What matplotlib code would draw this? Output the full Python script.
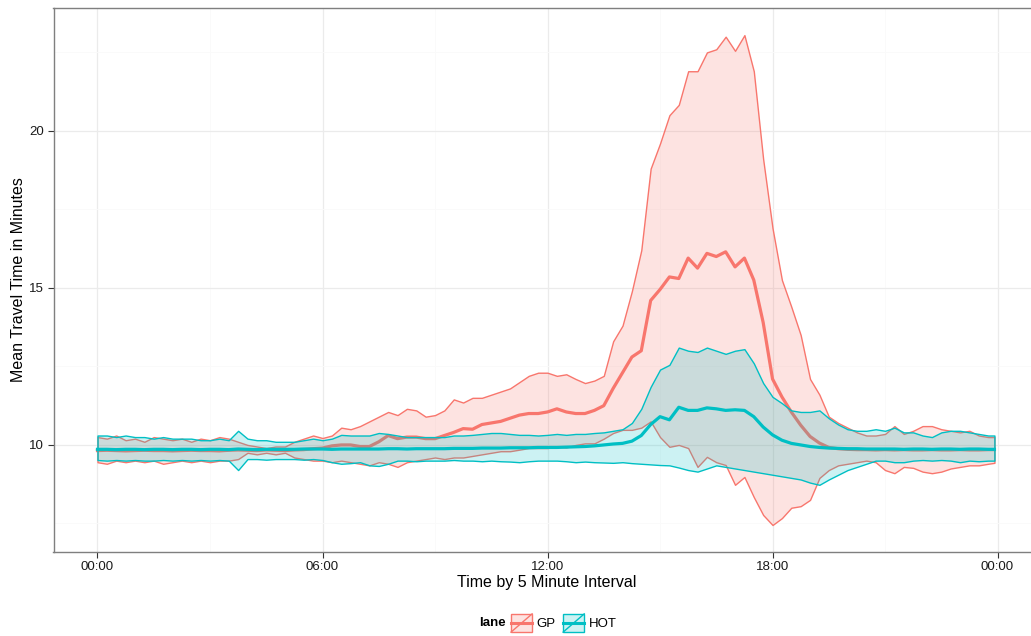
import numpy as np
import matplotlib
matplotlib.use("Agg")
import matplotlib.pyplot as plt
from matplotlib.colors import to_rgba
from matplotlib.patches import Patch, Rectangle
from matplotlib.lines import Line2D
from matplotlib.legend_handler import HandlerBase

plt.rcParams['font.family'] = ['Liberation Sans', 'DejaVu Sans']

# time of day in hours, 15 minute steps, last point 23:55
hours = np.append(np.arange(0, 24, 0.25), 23 + 55 / 60)

# GP lane: lower bound, mean, upper bound (minutes)
gp_hi = [
    10.25, 10.20, 10.30, 10.15, 10.20, 10.10, 10.25, 10.20,
    10.15, 10.20, 10.10, 10.20, 10.15, 10.25, 10.20, 10.10,
    10.00, 9.95, 9.90, 9.95, 9.95, 10.10, 10.20, 10.30,
    10.22, 10.30, 10.55, 10.50, 10.60, 10.75, 10.90, 11.05,
    10.95, 11.15, 11.10, 10.90, 10.95, 11.10, 11.45, 11.35,
    11.50, 11.50, 11.60, 11.70, 11.80, 12.00, 12.20, 12.30,
    12.30, 12.20, 12.25, 12.10, 11.97, 12.05, 12.20, 13.30,
    13.80, 14.90, 16.20, 18.80, 19.60, 20.50, 20.83, 21.90,
    21.90, 22.50, 22.60, 23.00, 22.55, 23.05, 21.90, 19.10,
    16.90, 15.25, 14.40, 13.50, 12.10, 11.60, 10.90, 10.70,
    10.55, 10.40, 10.30, 10.30, 10.35, 10.60, 10.35, 10.45,
    10.60, 10.60, 10.50, 10.45, 10.40, 10.45, 10.30, 10.25,
    10.25,
]
gp_mean = [
    9.82, 9.83, 9.82, 9.81, 9.82, 9.83, 9.82, 9.82,
    9.81, 9.82, 9.83, 9.82, 9.82, 9.81, 9.83, 9.84,
    9.83, 9.82, 9.84, 9.83, 9.82, 9.84, 9.85, 9.88,
    9.90, 9.97, 10.00, 10.00, 9.95, 9.95, 10.10, 10.30,
    10.20, 10.25, 10.25, 10.20, 10.20, 10.30, 10.40, 10.52,
    10.50, 10.65, 10.70, 10.75, 10.85, 10.95, 11.00, 11.00,
    11.05, 11.15, 11.05, 11.00, 11.00, 11.10, 11.25, 11.80,
    12.30, 12.80, 13.00, 14.60, 14.95, 15.35, 15.30, 15.95,
    15.63, 16.10, 16.00, 16.15, 15.67, 15.95, 15.25, 13.90,
    12.10, 11.53, 11.05, 10.63, 10.27, 10.06, 9.92, 9.88,
    9.86, 9.85, 9.85, 9.84, 9.85, 9.84, 9.85, 9.84,
    9.84, 9.85, 9.84, 9.84, 9.85, 9.84, 9.84, 9.85,
    9.85,
]
gp_lo = [
    9.45, 9.40, 9.50, 9.45, 9.50, 9.45, 9.50, 9.40,
    9.45, 9.50, 9.45, 9.50, 9.45, 9.50, 9.50, 9.55,
    9.75, 9.70, 9.75, 9.70, 9.75, 9.60, 9.55, 9.50,
    9.50, 9.45, 9.50, 9.45, 9.40, 9.35, 9.45, 9.40,
    9.30, 9.45, 9.50, 9.55, 9.60, 9.55, 9.60, 9.60,
    9.65, 9.70, 9.75, 9.80, 9.80, 9.85, 9.90, 9.90,
    9.90, 9.95, 9.92, 10.00, 10.05, 10.05, 10.20, 10.38,
    10.48, 10.48, 10.55, 10.75, 10.25, 9.94, 10.00, 9.90,
    9.30, 9.62, 9.45, 9.36, 8.73, 8.98, 8.34, 7.77,
    7.45, 7.67, 8.00, 8.05, 8.25, 8.95, 9.20, 9.35,
    9.40, 9.45, 9.50, 9.45, 9.20, 9.10, 9.30, 9.27,
    9.15, 9.10, 9.15, 9.25, 9.30, 9.35, 9.35, 9.40,
    9.43,
]

# HOT lane: lower bound, mean, upper bound (minutes)
hot_hi = [
    10.30, 10.30, 10.25, 10.30, 10.25, 10.25, 10.20, 10.25,
    10.20, 10.20, 10.20, 10.15, 10.15, 10.20, 10.15, 10.45,
    10.20, 10.15, 10.15, 10.10, 10.10, 10.10, 10.15, 10.20,
    10.15, 10.20, 10.32, 10.30, 10.30, 10.30, 10.38, 10.35,
    10.30, 10.25, 10.25, 10.25, 10.25, 10.25, 10.30, 10.30,
    10.32, 10.35, 10.38, 10.38, 10.35, 10.32, 10.32, 10.30,
    10.32, 10.35, 10.32, 10.35, 10.35, 10.38, 10.40, 10.45,
    10.50, 10.70, 11.15, 11.85, 12.40, 12.55, 13.10, 13.00,
    12.96, 13.10, 13.00, 12.90, 13.00, 13.05, 12.60, 11.97,
    11.53, 11.33, 11.10, 11.05, 11.05, 11.10, 10.85, 10.65,
    10.50, 10.45, 10.45, 10.50, 10.45, 10.55, 10.40, 10.40,
    10.30, 10.25, 10.40, 10.45, 10.45, 10.40, 10.35, 10.30,
    10.30,
]
hot_mean = [
    9.86, 9.86, 9.85, 9.86, 9.86, 9.85, 9.86, 9.86,
    9.85, 9.86, 9.86, 9.85, 9.86, 9.86, 9.85, 9.87,
    9.86, 9.85, 9.86, 9.86, 9.86, 9.86, 9.87, 9.87,
    9.87, 9.86, 9.87, 9.87, 9.87, 9.87, 9.87, 9.88,
    9.88, 9.87, 9.88, 9.88, 9.88, 9.88, 9.89, 9.89,
    9.89, 9.90, 9.90, 9.90, 9.91, 9.91, 9.91, 9.92,
    9.92, 9.92, 9.93, 9.94, 9.95, 9.97, 10.00, 10.03,
    10.05, 10.12, 10.30, 10.65, 10.90, 10.80, 11.20, 11.10,
    11.10, 11.18, 11.15, 11.10, 11.12, 11.10, 10.90, 10.57,
    10.32, 10.15, 10.05, 10.00, 9.95, 9.92, 9.90, 9.89,
    9.88, 9.88, 9.87, 9.87, 9.87, 9.87, 9.86, 9.87,
    9.87, 9.86, 9.87, 9.87, 9.86, 9.87, 9.87, 9.86,
    9.86,
]
hot_lo = [
    9.52, 9.50, 9.52, 9.50, 9.52, 9.50, 9.50, 9.52,
    9.50, 9.52, 9.50, 9.52, 9.50, 9.52, 9.50, 9.20,
    9.55, 9.55, 9.53, 9.55, 9.55, 9.55, 9.53, 9.55,
    9.52, 9.45, 9.40, 9.42, 9.45, 9.35, 9.33, 9.40,
    9.50, 9.50, 9.48, 9.50, 9.50, 9.50, 9.52, 9.50,
    9.50, 9.48, 9.50, 9.48, 9.47, 9.45, 9.48, 9.50,
    9.50, 9.50, 9.48, 9.45, 9.47, 9.45, 9.44, 9.43,
    9.45, 9.42, 9.40, 9.38, 9.36, 9.35, 9.28, 9.20,
    9.15, 9.25, 9.35, 9.30, 9.25, 9.20, 9.15, 9.10,
    9.05, 9.00, 8.95, 8.90, 8.80, 8.73, 8.90, 9.05,
    9.20, 9.30, 9.40, 9.50, 9.50, 9.45, 9.45, 9.50,
    9.52, 9.50, 9.52, 9.50, 9.45, 9.50, 9.48, 9.50,
    9.50,
]

lane_labels = ["GP", "HOT"]
lane_colors = ["#F8766D", "#00BFC4"]
x_ticks = [0, 6, 12, 18, 24]
x_tick_labels = ["00:00", "06:00", "12:00", "18:00", "00:00"]
y_ticks = [10, 15, 20]


class RibbonKey(HandlerBase):
    # legend key like ggplot's smooth key: filled box, thick line, diagonal
    def create_artists(self, legend, orig_handle, xdescent, ydescent,
                       width, height, fontsize, trans):
        col = orig_handle.get_edgecolor()
        x0, y0 = -xdescent, -ydescent
        box = Rectangle((x0, y0), width, height,
                        facecolor=orig_handle.get_facecolor(),
                        edgecolor=col, lw=1.0, transform=trans)
        mid = Line2D([x0, x0 + width], [y0 + height / 2] * 2,
                     color=col, lw=2.2, transform=trans)
        diag = Line2D([x0, x0 + width], [y0, y0 + height],
                      color=col, lw=1.0, transform=trans)
        return [box, mid, diag]


fig = plt.figure(figsize=(10.31, 6.36), dpi=100)
ax = fig.add_axes([53.5 / 1031, 1 - 551.7 / 636, 985.8 / 1031, 544.2 / 636])

bands = [
    (gp_lo, gp_mean, gp_hi, lane_colors[0]),
    (hot_lo, hot_mean, hot_hi, lane_colors[1]),
]
z = 2
for lo, mean, hi, col in bands:
    ax.fill_between(hours, lo, hi, facecolor=to_rgba(col, 0.2),
                    edgecolor=col, linewidth=1.0, zorder=z)
    ax.plot(hours, mean, color=col, lw=2.3, zorder=z + 0.1,
            solid_joinstyle="round")
    z += 0.2

ax.set_xlim(-1.173, 25.113)
ax.set_ylim(6.60, 23.93)

ax.set_xticks(x_ticks)
ax.set_xticklabels(x_tick_labels)
ax.set_xticks([3, 9, 15, 21], minor=True)
ax.set_yticks(y_ticks)
ax.set_yticks([7.5, 12.5, 17.5, 22.5], minor=True)
ax.set_axisbelow(True)
ax.grid(which="major", color="#EBEBEB", lw=0.9)
ax.grid(which="minor", color="#FAFAFA", lw=0.6)
ax.tick_params(which="major", length=4, width=0.8, color="#333333",
               labelsize=9.5, labelcolor="#1A1A1A", pad=3)
ax.tick_params(which="minor", length=0)
for sp in ax.spines.values():
    sp.set_color("#7F7F7F")
    sp.set_linewidth(1.0)

ax.set_xlabel("Time by 5 Minute Interval", fontsize=11.5, labelpad=1)
ax.set_ylabel("Mean Travel Time in Minutes", fontsize=11.5, labelpad=2)

handles = [Patch(facecolor=to_rgba(c, 0.2), edgecolor=c) for c in lane_colors]
fig.legend(handles, lane_labels, loc="center left",
           bbox_to_anchor=(511 / 1031, 1 - 623 / 636), ncol=2, frameon=False,
           handler_map={Patch: RibbonKey()}, handlelength=1.6,
           handleheight=1.75, handletextpad=0.35, columnspacing=0.55,
           borderpad=0, borderaxespad=0, fontsize=9.5)
fig.text(506 / 1031, 1 - 623 / 636, "lane", fontweight="bold", fontsize=9.5,
         ha="right", va="center")

fig.savefig("out.png", dpi=100)
